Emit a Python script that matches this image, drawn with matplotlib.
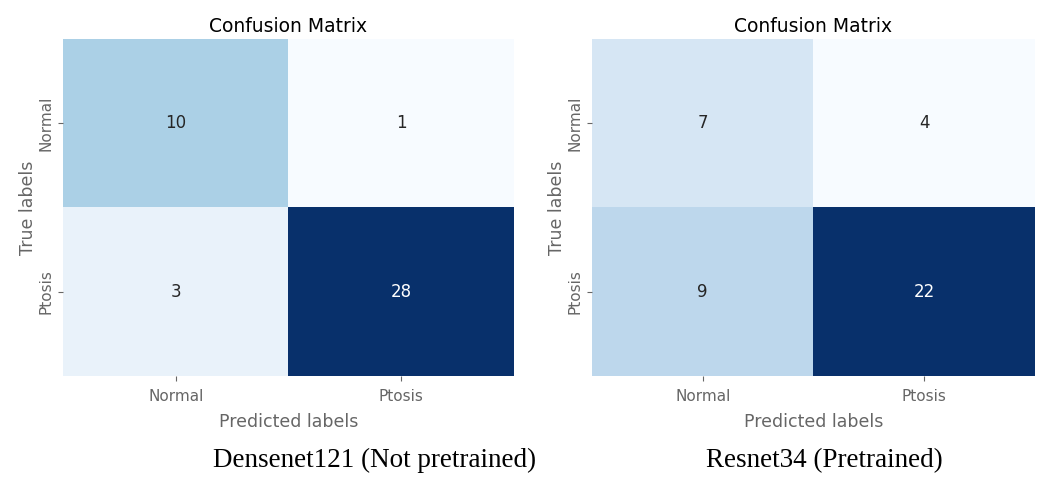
import matplotlib
matplotlib.use("Agg")
import matplotlib.pyplot as plt
import seaborn as sns
import numpy as np

# class names and confusion counts
labels = ["Normal", "Ptosis"]
densenet_cm = [[10, 1], [3, 28]]
resnet_cm = [[7, 4], [9, 22]]
captions = ["Densenet121 (Not pretrained)", "Resnet34 (Pretrained)"]

fig = plt.figure(figsize=(10.5, 4.78), dpi=100)
ax1 = fig.add_axes([0.060, 0.2134, 0.4295, 0.705])
ax2 = fig.add_axes([0.5638, 0.2134, 0.4219, 0.705])

for ax, cm, cap in zip([ax1, ax2], [densenet_cm, resnet_cm], captions):
    sns.heatmap(np.array(cm), annot=True, fmt="d", cmap="Blues", cbar=False,
                ax=ax, annot_kws={"fontsize": 12})
    ax.set_title("Confusion Matrix", fontsize=13.5, pad=5)
    ax.set_xlabel("Predicted labels", fontsize=12.5, color="#666666", labelpad=6)
    ax.set_ylabel("True labels", fontsize=12.5, color="#666666", labelpad=1)
    ax.set_xticklabels(labels, fontsize=11, color="#666666")
    ax.set_yticklabels(labels, fontsize=11, color="#666666", rotation=90, va="center")
    ax.tick_params(colors="#666666", labelcolor="#666666")
    ax.tick_params(axis="x", pad=6)
    # caption under each panel
    ax.text(0.69 if ax is ax1 else 0.525, -0.25, cap, transform=ax.transAxes,
            ha="center", va="center", fontsize=19.5, family="Liberation Serif",
            color="black")

fig.savefig("out.png", dpi=100)
